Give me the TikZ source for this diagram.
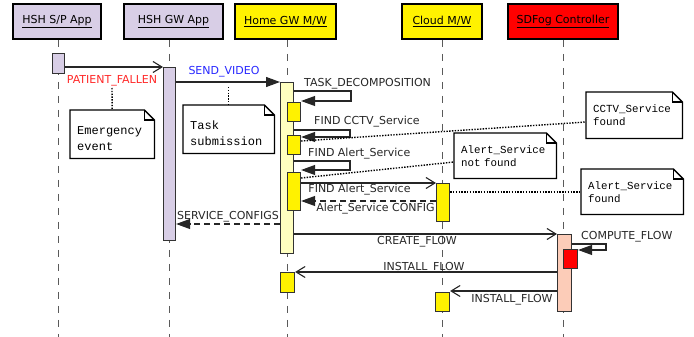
\documentclass[tikz,border=0pt]{standalone}
\usepackage{fontspec}
\setmainfont{DejaVu Sans}
\newfontfamily\monofont{Liberation Mono}
\usetikzlibrary{arrows.meta,backgrounds}
\definecolor{lav}{RGB}{216,206,230}
\definecolor{lyel}{RGB}{255,255,192}
\definecolor{peach}{RGB}{252,204,184}
\definecolor{lblred}{RGB}{255,40,40}
\definecolor{lblblue}{RGB}{40,40,255}
\definecolor{lifegray}{RGB}{90,90,90}
\newcommand\notefold[1]{%
  \begin{pgfonlayer}{background}
    \draw[notebox] (#1.south west) -- (#1.north west) -- ([xshift=-10pt]#1.north east)
      -- ([yshift=-10pt]#1.north east) -- (#1.south east) -- cycle;
    \draw[notebox,fill=none] ([xshift=-10pt]#1.north east) -- ([xshift=-10pt,yshift=-10pt]#1.north east)
      -- ([yshift=-10pt]#1.north east);
  \end{pgfonlayer}}
\begin{document}
\begin{tikzpicture}[x=1pt,y=-1pt,
  head/.style={draw=black, line width=1.6pt, minimum height=35pt, inner sep=0pt, font=\fontsize{11}{13}\selectfont},
  life/.style={draw=lifegray, line width=0.9pt, dash pattern=on 7pt off 7pt},
  act/.style={draw=black!80, line width=1.1pt, inner sep=0pt, anchor=north west},
  msg/.style={draw=black!85, line width=1.1pt},
  openhead/.style={-{Straight Barb[length=9pt,width=11pt,line width=1.1pt]}},
  fullhead/.style={-{Triangle[length=14pt,width=10pt]}},
  retmsg/.style={msg, dash pattern=on 6pt off 4pt},
  lbl/.style={font=\fontsize{11}{13}\selectfont, inner sep=0pt, text=black!85},
  note/.style={rectangle, inner xsep=7pt, inner ysep=0pt, anchor=north west, align=left},
  notebox/.style={draw=black, line width=1.3pt, fill=white},
  conn/.style={draw=black, line width=1.4pt, dash pattern=on 1.4pt off 1.4pt},
]
\useasboundingbox (0,0) rectangle (694,337);

% headers
\node[head, fill=lav, minimum width=88pt] (h1) at (57,21.5) {\underline{HSH S/P App}};
\node[head, fill=lav, minimum width=99pt] (h2) at (173.5,21.5) {\underline{HSH GW App}};
\node[head, fill=yellow, minimum width=101pt] (h3) at (285.5,21.5) {\underline{Home GW M/W}};
\node[head, fill=yellow, minimum width=80pt] (h4) at (442,21.5) {\underline{Cloud M/W}};
\node[head, fill=red, minimum width=110pt] (h5) at (563,21.5) {\underline{SDFog Controller}};

% lifelines
\draw[life] (h1.south -| 58,0) -- (58,337);
\draw[life] (h2.south -| 169,0) -- (169,337);
\draw[life] (h3.south -| 287,0) -- (287,337);
\draw[life] (h4.south -| 442,0) -- (442,337);
\draw[life] (h5.south -| 563,0) -- (563,337);

% activations
\node[act, fill=lav, minimum width=12pt, minimum height=20pt] (a1) at (52,53) {};
\node[act, fill=lav, minimum width=12pt, minimum height=173pt] (a2) at (163,67) {};
\node[act, fill=lyel, minimum width=13pt, minimum height=171pt] (a3) at (280,82) {};
\node[act, fill=yellow, minimum width=13pt, minimum height=19pt] (a3a) at (287,102) {};
\node[act, fill=yellow, minimum width=13pt, minimum height=19pt] (a3b) at (287,135) {};
\node[act, fill=yellow, minimum width=13pt, minimum height=38pt] (a3c) at (287,172) {};
\node[act, fill=yellow, minimum width=14pt, minimum height=20pt] (a3d) at (280,272) {};
\node[act, fill=yellow, minimum width=13pt, minimum height=38pt] (a4a) at (436,183) {};
\node[act, fill=yellow, minimum width=14pt, minimum height=19pt] (a4b) at (435,292) {};
\node[act, fill=peach, minimum width=14pt, minimum height=77pt] (a5) at (557,234) {};
\node[act, fill=red, minimum width=14pt, minimum height=19pt] (a5a) at (563,249) {};

% messages
\draw[msg,openhead] (a1.east |- 0,67) -- (a2.west |- 0,67);
\node[lbl, text=lblred] (l1) at (112,81) {PATIENT\_FALLEN};
\draw[msg,fullhead] (a2.east |- 0,82) -- (a3.west |- 0,82);
\node[lbl, text=lblblue] (l2) at (224,72) {SEND\_VIDEO};

\draw[msg,fullhead] (a3.east |- 0,91) -- (351,91) -- (351,101) -- (a3a.east |- 0,101);
\node[lbl, anchor=west] (l3) at (304,84) {TASK\_DECOMPOSITION};
\draw[msg,fullhead] (a3.east |- 0,130) -- (350,130) -- (350,137) -- (a3b.east |- 0,137);
\node[lbl, anchor=west] (l4) at (314,122) {FIND CCTV\_Service};
\draw[msg,fullhead] (a3.east |- 0,161) -- (350,161) -- (350,170) -- (a3c.east |- 0,170);
\node[lbl, anchor=west] (l5) at (308,154) {FIND Alert\_Service};

\draw[msg,openhead] (a3c.east |- 0,183) -- (a4a.west |- 0,183);
\node[lbl] (l6) at (359.5,190) {FIND Alert\_Service};
\draw[retmsg,fullhead] (a4a.west |- 0,201) -- (a3c.east |- 0,201);
\node[lbl] (l7) at (375.5,209) {Alert\_Service CONFIG};
\draw[retmsg,fullhead] (a3.west |- 0,224) -- (a2.east |- 0,224);
\node[lbl] (l8) at (228,217) {SERVICE\_CONFIGS};

\draw[msg,openhead] (a3.east |- 0,234) -- (a5.west |- 0,234);
\node[lbl] (l9) at (417,242) {CREATE\_FLOW};
\draw[msg,fullhead] (a5.east |- 0,244) -- (606,244) -- (606,250) -- (a5a.east |- 0,250);
\node[lbl, anchor=west] (l10) at (581,237) {COMPUTE\_FLOW};
\draw[msg,openhead] (a5.west |- 0,272) -- (a3d.east |- 0,272);
\node[lbl] (l11) at (424,268) {INSTALL\_FLOW};
\draw[msg,openhead] (a5.west |- 0,291) -- (a4b.east |- 0,291);
\node[lbl] (l12) at (512,300) {INSTALL\_FLOW};

% notes
\node[note, minimum width=84pt, minimum height=48pt, text width=70pt, font=\monofont\fontsize{12}{16}\selectfont] (n1) at (70,110) {\rule{0pt}{17pt}Emergency\\event};
\node[note, minimum width=91pt, minimum height=48pt, text width=77pt, font=\monofont\fontsize{12}{16}\selectfont] (n2) at (183,105) {\rule{0pt}{17pt}Task\\submission};
\node[note, minimum width=96pt, minimum height=46pt, text width=82pt, font=\monofont\fontsize{10.8}{13}\selectfont] (n3) at (586,92) {CCTV\_Service\\found};
\node[note, minimum width=102pt, minimum height=45pt, text width=88pt, font=\monofont\fontsize{10.8}{13}\selectfont] (n4) at (454,133) {Alert\_Service\\not found};
\node[note, minimum width=102pt, minimum height=45pt, text width=88pt, font=\monofont\fontsize{10.8}{13}\selectfont] (n5) at (581,169) {Alert\_Service\\found};
\notefold{n1}\notefold{n2}\notefold{n3}\notefold{n4}\notefold{n5}

% note connectors
\draw[conn] (l1.south |- 0,88) -- (n1.north);
\draw[conn] (n2.north |- 0,87) -- (n2.north);
\draw[conn] (a3b.east |- 0,141) -- (n3.west |- 0,122);
\draw[conn] (a3c.east |- 0,178) -- (n4.west |- 0,162);
\draw[conn] (a4a.east |- 0,192) -- (n5.west |- 0,192);
\end{tikzpicture}
\end{document}
